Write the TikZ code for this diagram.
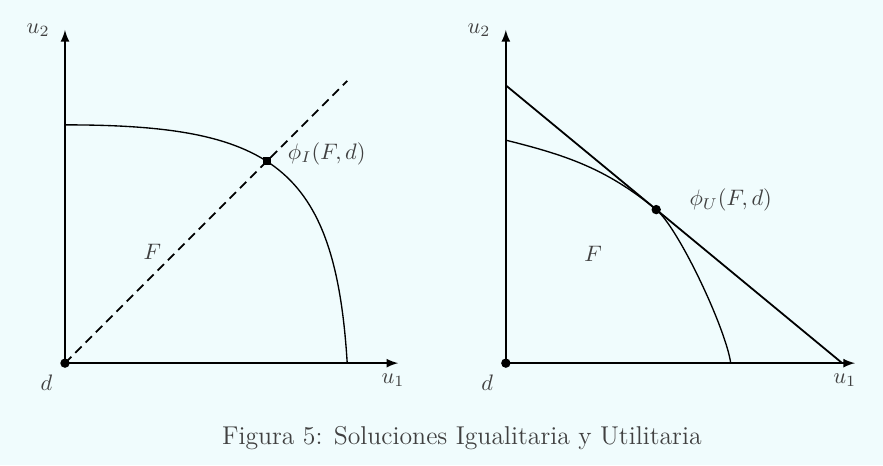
\documentclass[tikz,border=0pt]{standalone}
\usepackage{amsmath}
\usetikzlibrary{arrows.meta, positioning, intersections}
\definecolor{bgcyan}{RGB}{240,252,253}

\begin{document}
\begin{tikzpicture}[
  font=\normalsize,
  axis/.style={line width=0.8pt, ->, >=latex},
  frontier/.style={line width=0.6pt},
  diag/.style={line width=0.8pt, dash pattern=on 4pt off 2.5pt},
  dot/.style={circle, fill=black, inner sep=0pt, minimum size=4.2pt},
  sqdot/.style={rectangle, fill=black, inner sep=0pt, minimum size=3.6pt},
  lbl/.style={text=black!75, inner sep=1pt}
]
\fill[bgcyan] (-1.02,-1.60) rectangle (12.84,5.70);
\useasboundingbox (-1.02,-1.60) rectangle (12.84,5.70);

% Igualitaria
\coordinate (dI) at (0,0);
\coordinate (u2I) at (0,5.23);
\coordinate (u1I) at (5.23,0);
\coordinate (endI) at (4.43,4.43);
\draw[axis] (dI) -- (u2I);
\draw[axis] (dI) -- (u1I);
\draw[frontier, name path=frI] (0,3.74) .. controls (3.22,3.74) and (4.24,3.11) .. (4.43,0);
\draw[diag, name path=diagI] (dI) -- (endI);
\path[name intersections={of=frI and diagI, by=phiI}];
\node[dot] (pdI) at (dI) {};
\node[sqdot] (pI) at (phiI) {};
\node[lbl, left=0.2cm of u2I] (lu2I) {$u_2$};
\node[lbl, below=0.12cm of u1I, xshift=-0.08cm] (lu1I) {$u_1$};
\node[lbl, below left=0.08cm and 0.1cm of pdI] (ldI) {$d$};
\node[lbl, right=0.22cm of pI, yshift=0.12cm] (lpI) {$\phi_I(F,d)$};
\node[lbl] (lFI) at (1.37,1.74) {$F$};

% Utilitaria
\begin{scope}[xshift=6.92cm]
\coordinate (dU) at (0,0);
\coordinate (u2U) at (0,5.23);
\coordinate (u1U) at (5.48,0);
\coordinate (topU) at (0,4.36);
\coordinate (botU) at (5.28,0);
\coordinate (phiU) at (2.36,2.41);
\draw[axis] (dU) -- (u2U);
\draw[axis] (dU) -- (u1U);
\draw[frontier] (0,3.50) .. controls (0.94,3.265) and (1.57,3.06) .. (phiU)
  .. controls (2.71,2.12) and (3.45,0.55) .. (3.53,0);
\draw[line width=0.8pt] (topU) -- (botU);
\node[dot] (pdU) at (dU) {};
\node[dot] (pU) at (phiU) {};
\node[lbl, left=0.2cm of u2U] (lu2U) {$u_2$};
\node[lbl, below=0.12cm of u1U, xshift=-0.16cm] (lu1U) {$u_1$};
\node[lbl, below left=0.08cm and 0.1cm of pdU] (ldU) {$d$};
\node[lbl, right=0.4cm of pU, yshift=0.15cm] (lpU) {$\phi_U(F,d)$};
\node[lbl] (lFU) at (1.37,1.71) {$F$};
\end{scope}

\node[lbl, font=\fontsize{11.5}{13.8}\selectfont] (caption) at (6.23,-1.18) {Figura 5: Soluciones Igualitaria y Utilitaria};
\end{tikzpicture}
\end{document}
